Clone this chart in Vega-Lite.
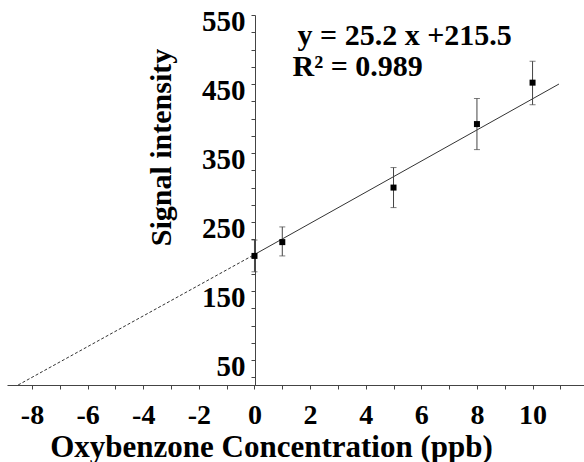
{
  "$schema": "https://vega.github.io/schema/vega-lite/v6.json",
  "width": 577,
  "height": 370,
  "autosize": {"type": "none"},
  "padding": {"left": 7, "top": 15, "right": 0, "bottom": 77},
  "background": "white",
  "config": {"view": {"stroke": null}, "font": "Liberation Serif"},
  "datasets": {
    "points": [
      {"conc": 0, "signal": 201, "lo": 178, "hi": 224},
      {"conc": 1, "signal": 221, "lo": 201, "hi": 243},
      {"conc": 5, "signal": 300, "lo": 271, "hi": 329},
      {"conc": 8, "signal": 392, "lo": 355, "hi": 429},
      {"conc": 10, "signal": 452, "lo": 420, "hi": 483}
    ],
    "fit": [
      {"conc": 0, "signal": 203},
      {"conc": 10.95, "signal": 450}
    ],
    "extrap": [
      {"conc": -8.5, "signal": 14},
      {"conc": 0, "signal": 203}
    ]
  },
  "layer": [
    {
      "data": {"name": "extrap"},
      "mark": {"type": "line", "strokeDash": [3, 2], "color": "#333", "strokeWidth": 1},
      "encoding": {
        "x": {
          "field": "conc", "type": "quantitative",
          "scale": {"domain": [-8.9, 11.85], "nice": false, "zero": false},
          "axis": {
            "values": [-8, -7, -6, -5, -4, -3, -2, -1, 0, 1, 2, 3, 4, 5, 6, 7, 8, 9, 10, 11],
            "tickCount": 100,
            "labelExpr": "datum.value % 2 == 0 ? '' + datum.value : ''",
            "grid": false,
            "domainColor": "#444",
            "tickColor": "#444",
            "tickSize": 4,
            "labelFont": "Liberation Serif",
            "labelFontWeight": "bold",
            "labelFontSize": 28,
            "labelColor": "black",
            "labelPadding": 12,
            "labelFlush": false,
            "labelOverlap": false,
            "title": "Oxybenzone Concentration  (ppb)",
            "titleFont": "Liberation Serif",
            "titleFontWeight": "bold",
            "titleFontSize": 31,
            "titleColor": "black",
            "titleX": 264,
            "titleY": 71,
            "titleAlign": "center",
            "titleBaseline": "alphabetic"
          }
        },
        "y": {
          "field": "signal", "type": "quantitative",
          "scale": {"domain": [14, 550], "nice": false, "zero": false},
          "axis": {
            "values": [25, 50, 75, 100, 125, 150, 175, 200, 225, 250, 275, 300, 325, 350, 375, 400, 425, 450, 475, 500, 525, 550],
            "tickCount": 100,
            "labelExpr": "(datum.value - 50) % 100 == 0 ? '' + datum.value : ''",
            "offset": -248,
            "grid": false,
            "domainColor": "#444",
            "tickColor": "#444",
            "tickSize": 4,
            "labelFont": "Liberation Serif",
            "labelFontWeight": "bold",
            "labelFontSize": 29,
            "labelColor": "black",
            "labelPadding": 6,
            "labelOffset": 6,
            "labelFlush": false,
            "labelOverlap": false,
            "title": "Signal intensity",
            "titleFont": "Liberation Serif",
            "titleFontWeight": "bold",
            "titleFontSize": 30,
            "titleColor": "black",
            "titleAngle": -90,
            "titleX": -85,
            "titleY": 132,
            "titleAlign": "center",
            "titleBaseline": "alphabetic"
          }
        }
      }
    },
    {
      "data": {"name": "fit"},
      "mark": {"type": "line", "color": "#333", "strokeWidth": 1},
      "encoding": {
        "x": {"field": "conc", "type": "quantitative"},
        "y": {"field": "signal", "type": "quantitative"}
      }
    },
    {
      "data": {"name": "points"},
      "mark": {"type": "rule", "color": "#444", "strokeWidth": 1},
      "encoding": {
        "x": {"field": "conc", "type": "quantitative"},
        "y": {"field": "lo", "type": "quantitative"},
        "y2": {"field": "hi"}
      }
    },
    {
      "data": {"name": "points"},
      "mark": {"type": "tick", "orient": "horizontal", "size": 6, "thickness": 1, "color": "#444"},
      "encoding": {
        "x": {"field": "conc", "type": "quantitative"},
        "y": {"field": "lo", "type": "quantitative"}
      }
    },
    {
      "data": {"name": "points"},
      "mark": {"type": "tick", "orient": "horizontal", "size": 6, "thickness": 1, "color": "#444"},
      "encoding": {
        "x": {"field": "conc", "type": "quantitative"},
        "y": {"field": "hi", "type": "quantitative"}
      }
    },
    {
      "data": {"name": "points"},
      "mark": {"type": "square", "size": 36, "color": "black", "opacity": 1, "filled": true},
      "encoding": {
        "x": {"field": "conc", "type": "quantitative"},
        "y": {"field": "signal", "type": "quantitative"}
      }
    },
    {
      "data": {"values": [{"eq": "y = 25.2 x +215.5"}]},
      "mark": {"type": "text", "align": "left", "baseline": "alphabetic", "font": "Liberation Serif", "fontWeight": "bold", "fontSize": 30, "color": "black"},
      "encoding": {
        "x": {"datum": 1.55},
        "y": {"datum": 506},
        "text": {"field": "eq"}
      }
    },
    {
      "data": {"values": [{"eq": "R² = 0.989"}]},
      "mark": {"type": "text", "align": "left", "baseline": "alphabetic", "font": "Liberation Serif", "fontWeight": "bold", "fontSize": 30, "color": "black"},
      "encoding": {
        "x": {"datum": 1.37},
        "y": {"datum": 461},
        "text": {"field": "eq"}
      }
    }
  ]
}
